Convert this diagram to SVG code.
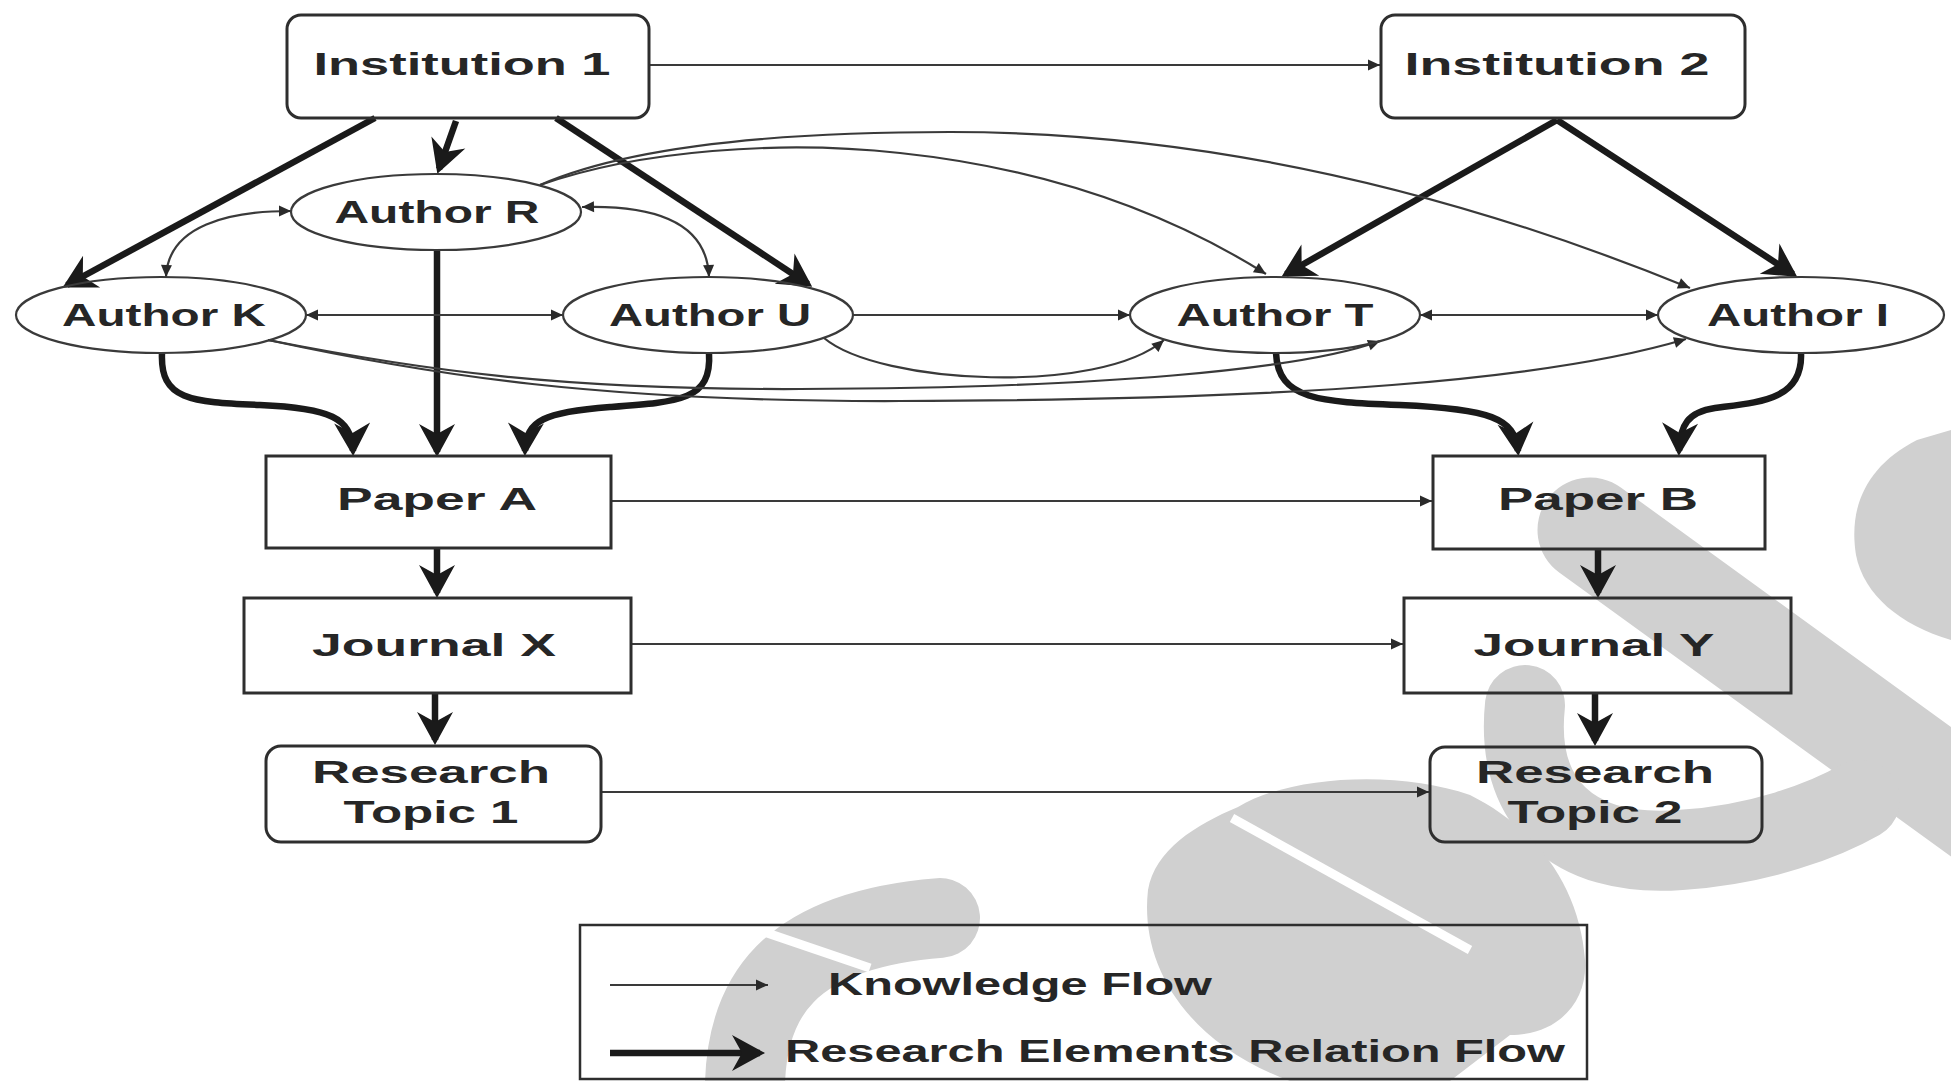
<svg xmlns="http://www.w3.org/2000/svg" width="1951" height="1081" viewBox="0 0 1951 1081">
<style>
.box{fill:none;stroke:#2e2e2e;stroke-width:3}
.ell{fill:none;stroke:#3a3a3a;stroke-width:2.2}
.lbl{font-family:"Liberation Sans",Arial,sans-serif;font-weight:bold;font-size:31px;fill:#262626;text-anchor:middle}
.leg{font-family:"Liberation Sans",Arial,sans-serif;font-weight:bold;font-size:31px;fill:#262626}
.thick{fill:none;stroke:#1a1a1a;stroke-width:6.5;marker-end:url(#hd)}
.thin{fill:none;stroke:#3a3a3a;stroke-width:2.2;marker-end:url(#ht)}
.both{marker-start:url(#ht)}
.wm{fill:#d0d0d0}
.wms{fill:none;stroke:#d0d0d0}
</style>
<defs>
<marker id="hd" markerUnits="userSpaceOnUse" viewBox="-36 -20 44 40" refX="-5" refY="0" markerWidth="44" markerHeight="40" orient="auto">
<path d="M0,0 L-33,-18 L-23,0 L-33,18 Z" fill="#1a1a1a"/>
</marker>
<marker id="ht" markerUnits="userSpaceOnUse" viewBox="-13 -7 15 14" refX="0" refY="0" markerWidth="15" markerHeight="14" orient="auto-start-reverse">
<path d="M0,0 L-12,-5.5 L-12,5.5 Z" fill="#2a2a2a"/>
</marker>
</defs>
<rect width="1951" height="1081" fill="#ffffff"/>
<g id="watermark">
<path class="wm" d="M1951,430 L1917,440 C1868,465 1848,505 1856,555 C1864,595 1900,625 1951,640 Z"/>
<path class="wms" d="M1590,530 L1990,820" stroke-width="105" stroke-linecap="round"/>
<path class="wms" d="M1525,705 C1515,800 1570,858 1680,850 C1760,845 1825,820 1860,800" stroke-width="80" stroke-linecap="round"/>
<path class="wm" d="M1238,807 C1290,775 1400,770 1470,795 C1540,830 1580,890 1585,960 C1588,1000 1560,1035 1510,1035 L1450,1081 L1290,1081 C1180,1040 1140,960 1148,890 C1155,850 1195,825 1238,807 Z"/>
<path d="M1232,818 L1470,950" stroke="#ffffff" stroke-width="9" fill="none"/>
<path class="wms" d="M745,1100 C742,995 790,930 940,918" stroke-width="80" stroke-linecap="round"/>
<path d="M758,930 L870,968" stroke="#ffffff" stroke-width="9" fill="none"/>
</g>
<g id="connectors">
<path class="thin" d="M650,65 L1380,65"/>
<path class="thick" d="M375,118 L67,285"/>
<path class="thick" d="M456,121 L439,169"/>
<path class="thick" d="M556,118 L808,284"/>
<path class="thick" d="M437,250 L437,452"/>
<path class="thick" d="M162,353 C160,400 190,402 260,405 C330,408 352,418 353,451"/>
<path class="thick" d="M709,353 C712,400 680,402 610,407 C545,412 526,420 525,451"/>
<path class="thick" d="M1557,120 L1286,274"/>
<path class="thick" d="M1557,120 L1793,274"/>
<path class="thick" d="M1276,353 C1278,400 1320,402 1400,405 C1490,409 1515,418 1518,451"/>
<path class="thick" d="M1801,353 C1803,400 1760,402 1715,408 C1688,412 1680,425 1679,451"/>
<path class="thick" d="M437,549 L437,593"/>
<path class="thick" d="M435,693 L435,740"/>
<path class="thick" d="M1598,549 L1598,593"/>
<path class="thick" d="M1595,693 L1595,741"/>
<path class="thin both" d="M291,211 C230,211 168,225 166,277"/>
<path class="thin both" d="M582,207 C650,205 707,220 709,277"/>
<path class="thin both" d="M306,315 L563,315"/>
<path class="thin" d="M853,315 L1130,315"/>
<path class="thin both" d="M1420,315 L1658,315"/>
<path class="thin" d="M540,185 C640,150 780,140 900,153 C1060,170 1180,220 1266,274"/>
<path class="thin" d="M540,185 C620,150 760,132 950,132 C1200,132 1450,190 1690,288"/>
<path class="thin" d="M824,338 C880,385 1100,395 1164,340"/>
<path class="thin" d="M268,340 C420,370 560,390 800,389 C1100,388 1300,370 1380,341"/>
<path class="thin" d="M268,340 C430,375 600,402 900,401 C1300,400 1550,380 1686,339"/>
<path class="thin" d="M612,501 L1432,501"/>
<path class="thin" d="M632,644 L1403,644"/>
<path class="thin" d="M602,792 L1429,792"/>
</g>
<g id="institution1"><rect class="box" x="287" y="15" width="362" height="103" rx="14"/><text class="lbl" x="462" y="75" textLength="297" lengthAdjust="spacingAndGlyphs">Institution 1</text></g>
<g id="institution2"><rect class="box" x="1381" y="15" width="364" height="103" rx="14"/><text class="lbl" x="1557" y="75" textLength="305" lengthAdjust="spacingAndGlyphs">Institution 2</text></g>
<g id="authorR"><ellipse class="ell" cx="436" cy="212" rx="145" ry="38"/><text class="lbl" x="437" y="223" textLength="205" lengthAdjust="spacingAndGlyphs">Author R</text></g>
<g id="authorK"><ellipse class="ell" cx="161" cy="315" rx="145" ry="38"/><text class="lbl" x="164" y="326" textLength="204" lengthAdjust="spacingAndGlyphs">Author K</text></g>
<g id="authorU"><ellipse class="ell" cx="708" cy="315" rx="145" ry="38"/><text class="lbl" x="710" y="326" textLength="202" lengthAdjust="spacingAndGlyphs">Author U</text></g>
<g id="authorT"><ellipse class="ell" cx="1275" cy="315" rx="145" ry="38"/><text class="lbl" x="1275" y="326" textLength="197" lengthAdjust="spacingAndGlyphs">Author T</text></g>
<g id="authorI"><ellipse class="ell" cx="1801" cy="315" rx="143" ry="38"/><text class="lbl" x="1798" y="326" textLength="182" lengthAdjust="spacingAndGlyphs">Author I</text></g>
<g id="paperA"><rect class="box" x="266" y="456" width="345" height="92"/><text class="lbl" x="437" y="510" textLength="200" lengthAdjust="spacingAndGlyphs">Paper A</text></g>
<g id="journalX"><rect class="box" x="244" y="598" width="387" height="95"/><text class="lbl" x="434" y="656" textLength="244" lengthAdjust="spacingAndGlyphs">Journal X</text></g>
<g id="topic1"><rect class="box" x="266" y="746" width="335" height="96" rx="15"/><text class="lbl" x="431" y="783" textLength="238" lengthAdjust="spacingAndGlyphs">Research</text><text class="lbl" x="431" y="823" textLength="175" lengthAdjust="spacingAndGlyphs">Topic 1</text></g>
<g id="paperB"><rect class="box" x="1433" y="456" width="332" height="93"/><text class="lbl" x="1598" y="510" textLength="200" lengthAdjust="spacingAndGlyphs">Paper B</text></g>
<g id="journalY"><rect class="box" x="1404" y="598" width="387" height="95"/><text class="lbl" x="1594" y="656" textLength="241" lengthAdjust="spacingAndGlyphs">Journal Y</text></g>
<g id="topic2"><rect class="box" x="1430" y="747" width="332" height="95" rx="15"/><text class="lbl" x="1595" y="783" textLength="238" lengthAdjust="spacingAndGlyphs">Research</text><text class="lbl" x="1595" y="823" textLength="175" lengthAdjust="spacingAndGlyphs">Topic 2</text></g>
<g id="legend">
<rect x="580" y="925" width="1007" height="154" fill="none" stroke="#2e2e2e" stroke-width="2.5"/>
<path class="thin" d="M610,985 L768,985"/>
<path class="thick" d="M610,1053 L760,1053"/>
<text class="leg" x="828" y="995" textLength="384" lengthAdjust="spacingAndGlyphs">Knowledge Flow</text>
<text class="leg" x="785" y="1062" textLength="780" lengthAdjust="spacingAndGlyphs">Research Elements Relation Flow</text>
</g>
</svg>
